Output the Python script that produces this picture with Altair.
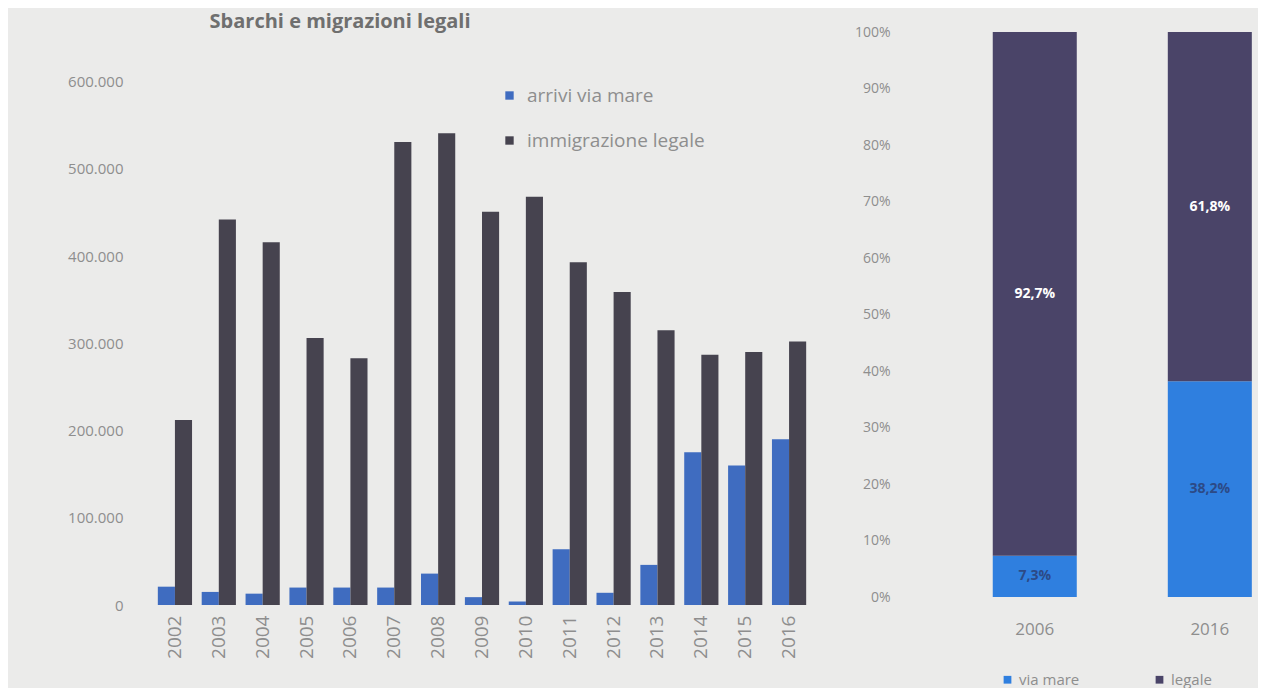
import altair as alt
import pandas as pd

# ---- data ----
years = ["2002", "2003", "2004", "2005", "2006", "2007", "2008", "2009",
         "2010", "2011", "2012", "2013", "2014", "2015", "2016"]
arrivi_via_mare = [21000, 15000, 13000, 20000, 20000, 20000, 36000, 9000,
                   4000, 64000, 14000, 46000, 175000, 160000, 190000]
immigrazione_legale = [212000, 442000, 416000, 306000, 283000, 531000, 541000, 451000,
                       468000, 393000, 359000, 315000, 287000, 290000, 302000]
series_left = ["arrivi via mare", "immigrazione legale"]
y_ticks_left = [0, 100000, 200000, 300000, 400000, 500000, 600000]

share_years = ["2006", "2016"]
share_via_mare = [7.3, 38.2]
share_legale = [92.7, 61.8]
series_right = ["via mare", "legale"]
y_ticks_right = [0, 10, 20, 30, 40, 50, 60, 70, 80, 90, 100]

# ---- styling ----
BG = "#ebebea"
GRAY = "#8e8e8e"
TITLE_GRAY = "#6f6f6f"
BLUE_L = "#3f6cc0"
DARK_L = "#46434f"
BLUE_R = "#2f7fdf"
DARK_R = "#4a4468"
FONT = "Open Sans"

rows = []
for i, yr in enumerate(years):
    rows.append({"year": yr, "serie": series_left[0], "value": arrivi_via_mare[i]})
    rows.append({"year": yr, "serie": series_left[1], "value": immigrazione_legale[i]})
df_left = pd.DataFrame(rows)

rows = []
for i, yr in enumerate(share_years):
    rows.append({"year": yr, "serie": series_right[0], "pct": share_via_mare[i], "ord": 0})
    rows.append({"year": yr, "serie": series_right[1], "pct": share_legale[i], "ord": 1})
df_right = pd.DataFrame(rows)

left = alt.Chart(df_left).mark_bar().encode(
    x=alt.X("year:N", title=None, sort=years,
            scale=alt.Scale(paddingInner=0.22, paddingOuter=0.11),
            axis=alt.Axis(labelAngle=-90, labelFontSize=19, labelColor=GRAY, labelFont=FONT,
                          labelPadding=10, domain=False, ticks=False)),
    xOffset=alt.XOffset("serie:N", sort=series_left),
    y=alt.Y("value:Q", title=None, scale=alt.Scale(domain=[0, 657000], nice=False),
            axis=alt.Axis(values=y_ticks_left, grid=False, domain=False, ticks=False,
                          labelExpr="replace(format(datum.value, ',d'), regexp(',', 'g'), '.')",
                          labelPadding=30, labelFontSize=15, labelColor=GRAY, labelFont=FONT)),
    color=alt.Color("serie:N", sort=series_left,
                    scale=alt.Scale(domain=series_left, range=[BLUE_L, DARK_L]),
                    legend=alt.Legend(title=None, orient="none", legendX=347, legendY=54,
                                      symbolType="square", symbolSize=70, symbolStrokeWidth=0,
                                      labelFontSize=19, labelColor=GRAY, labelFont=FONT,
                                      labelLimit=0, rowPadding=25, labelOffset=8)),
).properties(
    width=658, height=573,
    title=alt.TitleParams("Sbarchi e migrazioni legali", anchor="start", dx=142,
                          fontSize=20, font=FONT, fontWeight="bold", color=TITLE_GRAY,
                          offset=0),
)

base = alt.Chart(df_right).transform_stack(
    stack="pct", groupby=["year"], as_=["y0", "y1"], sort=[alt.SortField("ord")]
).transform_calculate(
    mid="(datum.y0 + datum.y1) / 2",
    label="replace(format(datum.pct, '.1f'), '.', ',') + '%'",
)

xr = alt.X("year:N", title=None, sort=share_years,
           scale=alt.Scale(paddingInner=0.52, paddingOuter=0.294, align=0.94),
           axis=alt.Axis(labelAngle=0, labelFontSize=17, labelColor=GRAY, labelFont=FONT,
                         labelPadding=24, domain=False, ticks=False))

bars = base.mark_bar().encode(
    x=xr,
    y=alt.Y("y0:Q", title=None, scale=alt.Scale(domain=[0, 100], nice=False),
            axis=alt.Axis(values=y_ticks_right, grid=False, domain=False, ticks=False,
                          labelExpr="datum.value + '%'", labelPadding=6,
                          labelFontSize=14, labelColor=GRAY, labelFont=FONT)),
    y2="y1:Q",
    color=alt.Color("serie:N", sort=series_right,
                    scale=alt.Scale(domain=series_right, range=[BLUE_R, DARK_R]),
                    legend=alt.Legend(title=None, orient="none", direction="horizontal",
                                      legendX=104, legendY=640,
                                      symbolType="square", symbolSize=60, symbolStrokeWidth=0,
                                      labelFontSize=15, labelColor=GRAY, labelFont=FONT,
                                      labelLimit=0, columnPadding=72)),
)

labels = base.mark_text(fontSize=14, fontWeight="bold", font=FONT).encode(
    x=alt.X("year:N", sort=share_years),
    y=alt.Y("mid:Q"),
    text="label:N",
    color=alt.condition("datum.serie == 'legale'", alt.value("white"), alt.value("#2c4a86")),
)

right = alt.layer(bars, labels).properties(width=362, height=565)

chart = alt.hconcat(left, right, spacing=43).resolve_scale(
    color="independent"
).properties(
    background=BG,
    padding={"left": 59, "top": 4, "right": 0, "bottom": 0},
).configure_view(stroke=None)

chart.save("out.html", embed_options={"renderer": "svg", "actions": False})
